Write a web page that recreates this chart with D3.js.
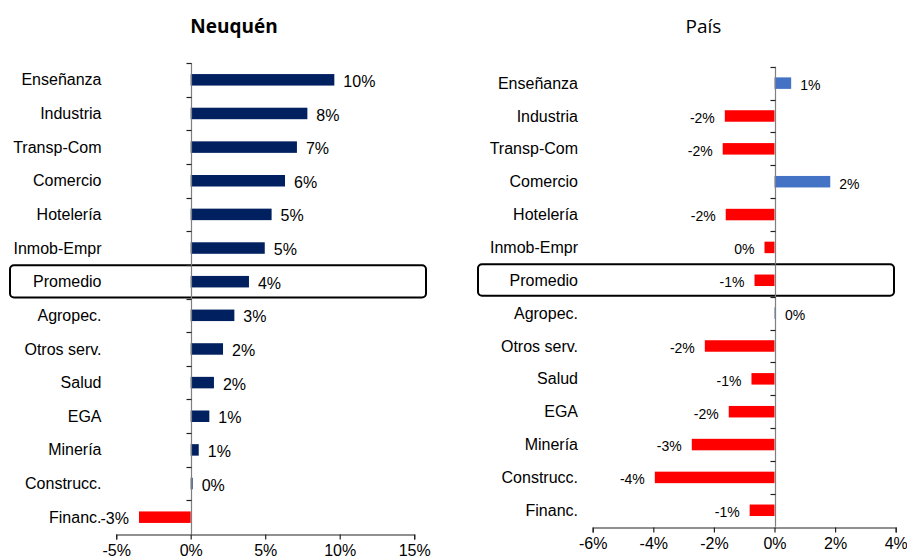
<!DOCTYPE html>
<html>
<head>
<meta charset="utf-8">
<script src="https://cdn.jsdelivr.net/npm/d3@7"></script>
<style>
  body { margin: 0; background: #fff; }
  svg text { font-family: "Liberation Sans", Arial, sans-serif; fill: #000; }
</style>
</head>
<body>
<svg id="chart" width="907" height="557"></svg>
<script>
// sectors, same order in both panels
var sectorsNqn = ["Enseñanza","Industria","Transp-Com","Comercio","Hotelería","Inmob-Empr","Promedio",
  "Agropec.","Otros serv.","Salud","EGA","Minería","Construcc.","Financ."];
var valuesNqn = [9.64, 7.83, 7.13, 6.33, 5.43, 4.97, 3.91, 2.93, 2.17, 1.56, 1.25, 0.54, 0.13, -3.47];
var labelsNqn = ["10%","8%","7%","6%","5%","5%","4%","3%","2%","2%","1%","1%","0%","-3%"];

var sectorsPais = sectorsNqn;
var valuesPais = [0.55, -1.64, -1.71, 1.84, -1.61, -0.33, -0.66, 0.05, -2.30, -0.76, -1.51, -2.73, -3.95, -0.82];
var labelsPais = ["1%","-2%","-2%","2%","-2%","0%","-1%","0%","-2%","-1%","-2%","-3%","-4%","-1%"];

var ticksNqn = [-5, 0, 5, 10, 15];
var ticksPais = [-6, -4, -2, 0, 2, 4];

var svg = d3.select("#chart");

// draws one panel
function panel(opt) {
  var g = svg.append("g");
  var x = d3.scaleLinear().domain(opt.domain).range(opt.xr);
  var y = d3.scaleBand().domain(opt.cats).range(opt.yr).padding(0);
  var bh = 11.5;

  // highlight box around Promedio
  g.append("rect")
    .attr("x", opt.box[0]).attr("width", opt.box[1] - opt.box[0])
    .attr("y", y("Promedio") + 0.5).attr("height", y.bandwidth() - 1.5)
    .attr("rx", 4).attr("fill", "none").attr("stroke", "#000").attr("stroke-width", 2);

  var data = opt.cats.map(function(c, i){ return {c: c, v: opt.vals[i], l: opt.labels[i]}; });

  g.selectAll(".bar").data(data).enter().append("rect")
    .attr("x", function(d){ return x(Math.min(0, d.v)); })
    .attr("width", function(d){ return Math.abs(x(d.v) - x(0)); })
    .attr("y", function(d){ return y(d.c) + y.bandwidth()/2 - bh/2; })
    .attr("height", bh)
    .attr("fill", function(d){ return d.v >= 0 ? opt.pos : opt.neg; });

  // category labels
  g.selectAll(".cat").data(data).enter().append("text")
    .attr("x", opt.catX).attr("y", function(d){ return y(d.c) + y.bandwidth()/2; })
    .attr("dy", "0.35em").attr("text-anchor", "end")
    .style("font-size", "16px").text(function(d){ return d.c; });

  // value labels
  g.selectAll(".val").data(data).enter().append("text")
    .attr("x", function(d){ return d.v >= 0 ? x(d.v) + 9 : x(d.v) - 10; })
    .attr("y", function(d){ return y(d.c) + y.bandwidth()/2 + opt.lblShift; })
    .attr("dy", "0.35em")
    .attr("text-anchor", function(d){ return d.v >= 0 ? "start" : "end"; })
    .style("font-size", opt.lblSize).text(function(d){ return d.l; });

  // vertical axis + ticks at band edges
  var x0 = Math.round(x(0)) + 0.5;
  g.append("line").attr("x1", x0).attr("x2", x0)
    .attr("y1", opt.yr[0]).attr("y2", opt.yr[1]).attr("stroke", "#7f7f7f").attr("stroke-width", 1.2);
  var edges = opt.cats.map(function(c){ return y(c); });
  g.selectAll(".yt").data(edges).enter().append("line")
    .attr("x1", x0 - 5).attr("x2", x0)
    .attr("y1", function(d){ return Math.round(d) + 0.5; })
    .attr("y2", function(d){ return Math.round(d) + 0.5; })
    .attr("stroke", "#222").attr("stroke-width", 1.2);

  // horizontal axis
  var ax = g.append("g")
    .attr("transform", "translate(0," + (Math.round(opt.yr[1]) + 0.5) + ")")
    .call(d3.axisBottom(x).tickValues(opt.ticks).tickSize(5).tickPadding(5)
      .tickFormat(function(d){ return d + "%"; }));
  ax.select(".domain").attr("stroke", "#222").attr("stroke-width", 1.2);
  ax.selectAll(".tick line").attr("stroke", "#222").attr("stroke-width", 1.2);
  ax.selectAll(".tick text").style("font-size", "16px")
    .style("font-family", "'Liberation Sans', Arial, sans-serif").attr("fill", "#000");

  // title
  svg.append("text").attr("x", opt.titleX).attr("y", 33).attr("text-anchor", "middle")
    .style("font-family", "'Open Sans', sans-serif").style("font-size", "19px")
    .style("font-weight", opt.titleWeight).text(opt.title);
}

panel({
  cats: sectorsNqn, vals: valuesNqn, labels: labelsNqn, ticks: ticksNqn,
  domain: [-5, 15], xr: [116.2, 414.2], yr: [63, 534],
  box: [10, 426], catX: 101.5, pos: "#002060", neg: "#ff0000",
  lblSize: "16px", lblShift: 1.5,
  title: "Neuquén", titleX: 234, titleWeight: "bold"
});

panel({
  cats: sectorsPais, vals: valuesPais, labels: labelsPais, ticks: ticksPais,
  domain: [-6, 4], xr: [592.7, 895.7], yr: [66.7, 526.7],
  box: [478, 894], catX: 578, pos: "#4472c4", neg: "#ff0000",
  lblSize: "14px", lblShift: 2,
  title: "País", titleX: 703.5, titleWeight: "normal"
});
</script>
</body>
</html>
